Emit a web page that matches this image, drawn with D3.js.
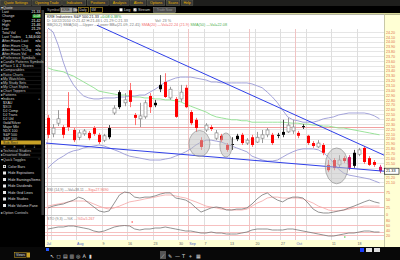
<!DOCTYPE html>
<html>
<head>
<meta charset="utf-8">
<script src="https://cdn.jsdelivr.net/npm/d3@7/dist/d3.min.js"></script>
<style>
  body { margin: 0; background: #000; }
  svg { display: block; font-family: "Liberation Sans", Arial, sans-serif; }
</style>
</head>
<body>
<svg id="chart" width="400" height="260"></svg>
<script>
// ---- daily bars (weekday slots, Jul 23 .. Oct 22) ----
var opens = [22.43,22.10,22.32,22.24,22.63,22.18,22.03,22.10,22.12,22.22,
  22.08,21.97,22.22,22.53,22.96,22.74,23.00,22.49,22.41,22.45,
  22.88,22.74,23.11,23.17,22.84,22.82,22.82,23.05,22.55,22.39,
  21.97,22.18,22.24,22.01,22.06,21.87,21.89,22.06,22.08,21.91,
  22.03,21.93,22.01,22.08,22.08,22.08,22.14,22.14,22.16,22.12,
  22.26,22.06,21.91,21.83,21.87,21.46,21.56,21.46,21.60,21.62,
  21.71,21.68,21.81,21.60,21.52,21.42];
var highs = [22.49,22.30,22.59,22.28,22.96,22.22,22.18,22.20,22.16,22.26,
  22.12,22.10,22.28,22.69,23.00,22.94,23.15,22.53,22.74,22.80,
  22.94,22.80,23.31,23.35,23.07,22.86,23.11,23.11,22.59,22.43,
  22.03,22.32,22.28,22.18,22.10,21.91,22.03,22.10,22.12,22.01,
  22.08,22.14,22.18,22.22,22.12,22.12,22.39,22.43,22.39,22.16,
  22.30,22.08,21.95,21.97,21.91,21.56,21.60,21.66,21.64,21.66,
  21.77,21.81,21.85,21.64,21.56,21.46];
var lows = [22.01,22.03,22.26,22.01,22.16,21.93,21.97,22.06,21.97,22.06,
  21.89,21.93,21.99,22.49,22.61,22.67,22.65,22.28,22.24,22.41,
  22.53,22.65,22.96,22.84,22.80,22.43,22.76,22.63,22.28,22.14,
  21.77,22.14,22.16,21.97,21.93,21.73,21.77,21.95,21.87,21.87,
  21.83,21.91,21.91,22.03,21.87,22.01,22.03,22.12,22.10,22.01,
  22.20,21.87,21.81,21.81,21.66,21.31,21.35,21.40,21.50,21.35,
  21.40,21.64,21.48,21.44,21.42,21.29];
var closes = [22.08,22.22,22.41,22.08,22.24,21.97,22.12,22.16,22.01,22.10,
  21.93,22.06,22.03,22.63,22.65,22.80,22.76,22.43,22.47,22.74,
  22.65,22.69,23.02,22.86,23.02,22.45,22.96,22.65,22.32,22.22,
  21.83,22.28,22.20,22.12,21.97,21.77,21.87,21.99,21.91,21.97,
  21.87,22.03,22.08,22.18,21.91,22.06,22.08,22.28,22.24,22.06,
  22.24,21.91,21.85,21.91,21.71,21.35,21.40,21.56,21.54,21.40,
  21.44,21.77,21.52,21.46,21.46,21.33];
// bar colour class: R red, B black, H hollow, M magenta
var barKinds = ("RHHRRRHHRR" + "RHBHBHRRHH" + "RBBRHRHRRR" + "RHRHRRBBRH" +
  "RHHHRBBHHR" + "BRRHRRRHRM" + "BHRRRM").split("");

// ---- overlays ----
var bbUpper = [24.28,24.20,23.93,23.58,23.29,23.11,22.98,22.88,22.84,22.82,
  22.82,22.84,22.84,22.84,22.86,22.86,22.88,22.88,22.90,22.90,
  22.96,23.02,23.09,23.17,23.21,23.25,23.27,23.27,23.27,23.25,
  23.23,23.21,23.17,23.17,23.15,23.15,23.15,23.15,23.15,23.15,
  23.13,23.09,23.05,22.96,22.86,22.74,22.59,22.45,22.39,22.37,
  22.34,22.34,22.34,22.37,22.41,22.43,22.45,22.49,22.51,22.53,
  22.53,22.53,22.53,22.51,22.47,22.41];
var bbLower = [21.40,21.50,21.58,21.64,21.71,21.75,21.77,21.81,21.83,21.85,
  21.87,21.85,21.81,21.77,21.73,21.68,21.64,21.62,21.60,21.58,
  21.56,21.56,21.56,21.58,21.60,21.64,21.68,21.73,21.79,21.87,
  21.93,21.97,21.97,21.95,21.93,21.89,21.85,21.81,21.77,21.73,
  21.64,21.60,21.56,21.54,21.54,21.56,21.62,21.68,21.73,21.77,
  21.79,21.79,21.79,21.77,21.71,21.62,21.50,21.37,21.29,21.25,
  21.23,21.21,21.19,21.17,21.13,21.09];
var sma50 = [23.46,23.42,23.40,23.38,23.33,23.29,23.23,23.17,23.11,23.05,
  22.98,22.96,22.94,22.92,22.90,22.90,22.88,22.86,22.86,22.84,
  22.84,22.82,22.82,22.80,22.80,22.78,22.76,22.71,22.67,22.63,
  22.59,22.55,22.49,22.45,22.43,22.41,22.39,22.39,22.37,22.37,
  22.34,22.34,22.34,22.34,22.34,22.34,22.34,22.33,22.32,22.32,
  22.30,22.30,22.28,22.28,22.26,22.26,22.24,22.22,22.22,22.20,
  22.18,22.16,22.14,22.12,22.10,22.08];
var refPrice = 22.24;
// trend lines: [dayIndex, price] end points
var trendUpper = [[9.6, 24.34], [65.9, 21.66]];
var trendLower = [[-0.4, 21.91], [65.9, 21.33]];
// highlighted areas
var markDay = [29.7, 34.9, 56.6];
var markPrice = [21.90, 21.87, 21.44];
var markDays = [2.06, 1.2, 2.25];
var markSpread = [0.27, 0.25, 0.37];

// ---- lower studies ----
var rsiVal = [21.7,28,32,35,42,48,58,52,38,25, 12,8,12,38,65,75,72,58,55,58,
  58,62,68,72,72,55,52,48,38,22, 8,15,22,25,22,15,15,18,18,22,
  35,52,65,72,58,48,42,52,58,58, 55,38,18,8,5,5,8,12,15,22, 28,35,42,48,42,38];
var rsiSig = [28,32,35,38,42,45,45,45,42,35, 28,22,18,22,28,35,42,45,48,52,
  55,58,62,65,65,62,58,55,48,42, 35,28,25,22,18,17,15,15,15,18,
  28,38,45,55,58,58,55,55,55,55, 52,45,38,28,22,15,12,12,15,18, 22,25,28,28,28,28];
var stoVal = [44,48,52,52,56,56,52,48,44,36, 32,36,44,52,56,58,56,44,40,44,
  44,48,48,52,48,44,40,36,36,32, 28,28,32,28,28,24,24,24,28,32,
  40,44,44,44,40,40,40,44,44,40, 36,32,28,24,20,16,16,20,24,28, 28,32,36,36,32,32];

// ---- axes ----
var priceTicks = [21.1,21.2,21.3,21.4,21.5,21.6,21.7,21.8,21.9,22.0,22.1,22.2,22.3,22.4,22.5,22.6,
  22.7,22.8,22.9,23.0,23.1,23.2,23.3,23.4,23.5,23.6,23.7,23.8,23.9,24.0,24.1,24.2];
var rsiTicks = [0, 25, 50, 75];
var rsiLevels = [25, 75];
var stoTicks = [20, 40, 60, 80];
var stoLevels = [20, 32, 60];
var weekDays = [1, 6, 11, 16, 21, 26, 31, 36, 41, 46, 51, 56, 61];
var monthDays = [28, 49];
var expiryDays = [40];
var dateTickDays = [0, 6, 11, 16, 21, 26, 28, 31, 36, 41, 46, 49, 56, 61];
var dateTickText = ["Jul", "Aug", "9", "16", "23", "30", "Sep", "7", "13", "20", "27", "Oct", "11", "18"];
var dateTickMonth = [true, true, false, false, false, false, true, false, false, false, false, true, false, false];

// ---- side panel text ----
var menuTabs = ["Quote Settings", "Opening Trade", "Indicators", "Positions", "Analysis", "Alerts", "Options", "Scans", "Help"];
var quoteLabels = ["Last", "Change", "Open", "High", "Low", "Total Vol", "Last Trades", "After-Hours Last",
  "After-Hours Chg", "After-Hours %Chg", "After-Hours Vol"];
var quoteValues = ["21.33", "0.08", "21.42", "21.46", "21.29", "n/a", "1,34,6:00", "n/a", "n/a", "n/a", "n/a"];
var sectionLabels = ["Preference Symbols", "Candle Patterns Symbols", "Place 1 & 2 Scores", "Comparables",
  "Ratio Charts", "My Watchlists", "My Study Sets", "My Chart Styles", "Chart Toppers", "Patterns"];
var indexLabels = ["$XAU", "$XOI", "DJ Comp", "DJ Trans", "DJ Util", "Gold/Silver", "Major Mkt",
  "NDX 100", "S&P 500", "S&P 100", "Sub-Sect"];
var toggleLabels = ["Color Bars", "Hide Expirations", "Hide Earnings/Items", "Hide Dividends",
  "Hide Grid Lines", "Hide Studies", "Hide Volume Pane"];

// ---- layout ----
var plotL = 45, plotR = 384;
var mainTop = 15, mainBot = 186, rsiBot = 215, stoBot = 240;

var svg = d3.select("svg#chart");
var x = d3.scaleLinear().domain([0, 65]).range([48, 48 + 65 * 5.1]);
var yP = d3.scaleLinear().domain([21.0, 24.3]).range([187.2, 27.15]);
var yR = d3.scaleLinear().domain([0, 100]).range([214.5, 184.5]);
var yS = d3.scaleLinear().domain([0, 100]).range([240, 215]);
var snap = function(v) { return Math.round(v) + 0.5; };
var idx = d3.range(opens.length);
var last = closes[closes.length - 1];

// backgrounds
svg.append("rect").attr("width", 400).attr("height", 260).attr("fill", "#000");
svg.append("rect").attr("x", 0).attr("y", 0).attr("width", 400).attr("height", 6).attr("fill", "#1e1e1c");
svg.append("rect").attr("x", plotL).attr("y", 13).attr("width", 400 - plotL).attr("height", 1.5).attr("fill", "#d8d89a");
svg.append("rect").attr("x", plotL).attr("y", 14.5).attr("width", plotR - plotL).attr("height", stoBot - 14.5).attr("fill", "#fff");
svg.append("rect").attr("x", plotR).attr("y", 14.5).attr("width", 400 - plotR).attr("height", 233).attr("fill", "#ffffd4");
svg.append("line").attr("x1", plotR + 0.5).attr("x2", plotR + 0.5).attr("y1", 14.5).attr("y2", 247).attr("stroke", "#c8c8a8");
svg.append("rect").attr("x", plotL).attr("y", stoBot).attr("width", plotR - plotL).attr("height", 7).attr("fill", "#ffffd4");
svg.append("rect").attr("x", 0).attr("y", 247).attr("width", 400).attr("height", 13).attr("fill", "#080808");

// top menu tabs
var tabX = 0;
menuTabs.forEach(function(t) {
    var w = t.length * 1.9 + 4;
    svg.append("rect").attr("x", tabX + 0.5).attr("y", 0.5).attr("width", w).attr("height", 5).attr("fill", "#3a3a36").attr("stroke", "#6a6a5a").attr("stroke-width", 0.4);
    svg.append("text").attr("x", tabX + 0.5 + w / 2).attr("y", 4.4).attr("text-anchor", "middle").attr("font-size", 3.6).attr("fill", "#e8b400").text(t);
    tabX += w + 1.5;
});

// symbol toolbar
var tb = svg.append("g").attr("font-size", 3.8);
tb.append("text").attr("x", 47).attr("y", 11.3).attr("fill", "#aaa").text("Symbol");
tb.append("rect").attr("x", 60.5).attr("y", 7.5).attr("width", 12).attr("height", 5).attr("fill", "#9a9a9a").attr("stroke", "#555").attr("stroke-width", 0.5);
tb.append("text").attr("x", 62).attr("y", 11.3).attr("fill", "#222").text("KRE");
tb.append("rect").attr("x", 73).attr("y", 7.5).attr("width", 4).attr("height", 5).attr("fill", "#666");
tb.append("text").attr("x", 73.4).attr("y", 11.3).attr("fill", "#fff").attr("font-size", 3).text("Go");
tb.append("rect").attr("x", 78.5).attr("y", 7.5).attr("width", 10).attr("height", 5).attr("fill", "#000").attr("stroke", "#c9a227").attr("stroke-width", 0.6);
tb.append("text").attr("x", 79.5).attr("y", 11.3).attr("fill", "#ddd").attr("font-size", 3.2).text("Daily");
tb.append("rect").attr("x", 90.5).attr("y", 7.5).attr("width", 12).attr("height", 5).attr("fill", "#000").attr("stroke", "#c9a227").attr("stroke-width", 0.6);
tb.append("text").attr("x", 91.5).attr("y", 11.3).attr("fill", "#ddd").attr("font-size", 3.2).text("6M");
tb.append("rect").attr("x", 119.5).attr("y", 8.3).attr("width", 3).attr("height", 3).attr("fill", "#fff");
tb.append("text").attr("x", 124).attr("y", 11.3).attr("fill", "#ccc").text("Log");
tb.append("rect").attr("x", 133.5).attr("y", 8.3).attr("width", 3).attr("height", 3).attr("fill", "#fff");
tb.append("text").attr("x", 134).attr("y", 11).attr("fill", "#000").attr("font-size", 3).text("✓");
tb.append("text").attr("x", 138).attr("y", 11.3).attr("fill", "#ccc").text("Stream");
tb.append("rect").attr("x", 153.5).attr("y", 7.5).attr("width", 22).attr("height", 5).attr("fill", "#4a4a4a").attr("stroke", "#888").attr("stroke-width", 0.5);
tb.append("text").attr("x", 164.5).attr("y", 11.2).attr("text-anchor", "middle").attr("fill", "#999").attr("font-size", 3.2).text("Trade Now");

// ---- grid ----
var grid = svg.append("g");
grid.selectAll(".hg").data(priceTicks).enter().append("line")
    .attr("x1", plotL).attr("x2", plotR).attr("y1", function(d) { return snap(yP(d)); }).attr("y2", function(d) { return snap(yP(d)); })
    .attr("stroke", "#e6e6e6");
grid.selectAll(".wg").data(weekDays).enter().append("line")
    .attr("x1", function(d) { return snap(x(d) - 2.55); }).attr("x2", function(d) { return snap(x(d) - 2.55); })
    .attr("y1", mainTop + 14).attr("y2", stoBot).attr("stroke", "#dedede");
grid.selectAll(".mg").data(monthDays.concat(expiryDays)).enter().append("line")
    .attr("x1", function(d) { return snap(x(d) - 2.55); }).attr("x2", function(d) { return snap(x(d) - 2.55); })
    .attr("y1", mainTop + 14).attr("y2", stoBot).attr("stroke", "#f0c4c4");
grid.append("line").attr("x1", 47.5).attr("x2", 47.5).attr("y1", mainTop + 14).attr("y2", stoBot).attr("stroke", "#f0c4c4");

// pane separators
[mainBot, rsiBot].forEach(function(v) {
    svg.append("line").attr("x1", plotL).attr("x2", plotR).attr("y1", v + 0.5).attr("y2", v + 0.5).attr("stroke", "#c8c8c8");
});

// ---- main pane ----
svg.append("clipPath").attr("id", "mainClip").append("rect").attr("x", plotL).attr("y", mainTop).attr("width", plotR - plotL).attr("height", mainBot - mainTop);
var main = svg.append("g").attr("clip-path", "url(#mainClip)");
var line = function(vals) { return d3.line().x(function(d, i) { return x(i); }).y(function(d) { return yP(d); })(vals); };

main.append("line").attr("x1", plotL).attr("x2", plotR).attr("y1", snap(yP(refPrice))).attr("y2", snap(yP(refPrice))).attr("stroke", "#f2a0a0");
main.append("path").attr("d", line(sma50)).attr("fill", "none").attr("stroke", "#8fe08f").attr("stroke-width", 0.9);
main.append("path").attr("d", line(bbUpper)).attr("fill", "none").attr("stroke", "#9a9ad6").attr("stroke-width", 0.9);
main.append("path").attr("d", line(bbLower)).attr("fill", "none").attr("stroke", "#9a9ad6").attr("stroke-width", 0.9);

// candles
var wickCol = { R: "#ff7070", M: "#e0508a", B: "#444", H: "#999" };
var bodyCol = { R: "#ff0000", M: "#d4145a", B: "#000", H: "#fff" };
main.selectAll(".wick").data(idx).enter().append("line")
    .attr("x1", function(i) { return snap(x(i)); }).attr("x2", function(i) { return snap(x(i)); })
    .attr("y1", function(i) { return yP(highs[i]); }).attr("y2", function(i) { return yP(lows[i]); })
    .attr("stroke", function(i) { return wickCol[barKinds[i]]; });
main.selectAll(".body").data(idx).enter().append("rect")
    .attr("x", function(i) { return Math.round(x(i)) - 1; })
    .attr("y", function(i) { return yP(Math.max(opens[i], closes[i])); })
    .attr("width", 3)
    .attr("height", function(i) { return Math.max(1, Math.abs(yP(opens[i]) - yP(closes[i]))); })
    .attr("fill", function(i) { return bodyCol[barKinds[i]]; })
    .attr("stroke", function(i) { return barKinds[i] === "H" ? "#888" : "none"; })
    .attr("stroke-width", 0.7);

// trend lines
[trendUpper, trendLower].forEach(function(t) {
    main.append("line").attr("x1", x(t[0][0])).attr("y1", yP(t[0][1])).attr("x2", x(t[1][0])).attr("y2", yP(t[1][1]))
        .attr("stroke", "#2f3fe8").attr("stroke-width", 1);
});

// highlighted areas
main.selectAll(".mark").data(markDay).enter().append("ellipse")
    .attr("cx", function(d) { return x(d); })
    .attr("cy", function(d, i) { return yP(markPrice[i]); })
    .attr("rx", function(d, i) { return x(d + markDays[i]) - x(d); })
    .attr("ry", function(d, i) { return yP(markPrice[i] - markSpread[i]) - yP(markPrice[i]); })
    .attr("fill", "#bdbdbd").attr("fill-opacity", 0.5).attr("stroke", "#888").attr("stroke-width", 0.6);

// header text
var hd = svg.append("g").attr("font-size", 3.8);
var h1 = hd.append("text").attr("x", 47).attr("y", 17.8);
h1.append("tspan").attr("fill", "#222").text("KRE Industries S&P 500  ");
h1.append("tspan").attr("fill", "#222").text("21.33  ");
h1.append("tspan").attr("fill", "#2a9a2a").text("+0.08  0.38%");
hd.append("text").attr("x", 47).attr("y", 22).attr("fill", "#777").text("D: 10/22/2010  O:21.42  H:21.46  L:21.29  C:21.33");
hd.append("text").attr("x", 155).attr("y", 22).attr("fill", "#777").text("Vol: 23        %");
var h3 = hd.append("text").attr("x", 47).attr("y", 26);
h3.append("tspan").attr("fill", "#777").text("BB(20,2) SMA(50) —Upper —Lower BB=(21.09, 22.41)  ");
h3.append("tspan").attr("fill", "#f07070").text("SMA(20) —Val=22.24 (21.9)  ");
h3.append("tspan").attr("fill", "#50b050").text("SMA(50) —Val=22.08");

// ---- RSI pane ----
var lineR = function(vals, ys) { return d3.line().x(function(d, i) { return x(i); }).y(function(d) { return ys(d); })(vals); };
svg.selectAll(".rl").data(rsiLevels).enter().append("line")
    .attr("x1", plotL).attr("x2", plotR).attr("y1", function(d) { return snap(yR(d)); }).attr("y2", function(d) { return snap(yR(d)); })
    .attr("stroke", "#f6b8b8");
svg.append("path").attr("d", lineR(rsiSig, yR)).attr("fill", "none").attr("stroke", "#f4a4a4").attr("stroke-width", 0.8);
svg.append("path").attr("d", lineR(rsiVal, yR)).attr("fill", "none").attr("stroke", "#777").attr("stroke-width", 0.8);
var r1 = svg.append("text").attr("x", 47).attr("y", 190.5).attr("font-size", 3.6);
r1.append("tspan").attr("fill", "#777").text("RSI (14,9) —Val=38.11 ");
r1.append("tspan").attr("fill", "#f07070").text("—Sig=27.9690");

// ---- stochastic pane ----
svg.selectAll(".sl").data(stoLevels).enter().append("line")
    .attr("x1", plotL).attr("x2", plotR).attr("y1", function(d) { return snap(yS(d)); }).attr("y2", function(d) { return snap(yS(d)); })
    .attr("stroke", "#f6c0c0");
svg.append("path").attr("d", lineR(stoVal, yS)).attr("fill", "none").attr("stroke", "#777").attr("stroke-width", 0.8);
svg.append("circle").attr("cx", x(16.5)).attr("cy", yS(72)).attr("r", 0.7).attr("fill", "#ff3030");
svg.append("circle").attr("cx", x(58.2)).attr("cy", yS(12)).attr("r", 0.7).attr("fill", "#30c030");
var s1 = svg.append("text").attr("x", 47).attr("y", 219.5).attr("font-size", 3.6);
s1.append("tspan").attr("fill", "#777").text("STO (9,3) —%K ");
s1.append("tspan").attr("fill", "#f07070").text("—%D=5.267");

// ---- right axes ----
var axisStyle = function(g) {
    g.select(".domain").remove();
    g.selectAll("line").remove();
    g.selectAll("text").attr("font-size", 3.6).attr("fill", "#e07048").attr("x", 2).attr("font-family", "Liberation Sans, Arial, sans-serif");
};
// price labels next to the last-price tag are left out so the tag stays readable
var priceLabels = priceTicks.filter(function(p) { return Math.abs(p - last) > 0.08; });
svg.append("g").attr("transform", "translate(" + plotR + ",0)")
    .call(d3.axisRight(yP).tickValues(priceLabels).tickFormat(d3.format(".2f")).tickSize(0)).call(axisStyle);
svg.append("g").attr("transform", "translate(" + plotR + ",0)")
    .call(d3.axisRight(yR).tickValues(rsiTicks).tickSize(0)).call(axisStyle);
svg.append("g").attr("transform", "translate(" + plotR + ",0)")
    .call(d3.axisRight(yS).tickValues(stoTicks).tickSize(0)).call(axisStyle);

// last price tag
svg.append("rect").attr("x", plotR + 0.5).attr("y", yP(last) - 3).attr("width", 14.5).attr("height", 6).attr("fill", "#fff").attr("stroke", "#000").attr("stroke-width", 0.6);
svg.append("text").attr("x", plotR + 2).attr("y", yP(last) + 1.3).attr("font-size", 3.8).attr("fill", "#000").text(d3.format(".2f")(last));

// ---- date axis ----
svg.selectAll(".dt").data(dateTickDays).enter().append("text")
    .attr("x", function(d) { return Math.max(46.5, x(d) - 1.5); }).attr("y", 245.3).attr("font-size", 3.6)
    .attr("fill", function(d, i) { return dateTickMonth[i] ? "#4a62c8" : "#666"; })
    .text(function(d, i) { return dateTickText[i]; });

// ---- bottom tool bar ----
svg.append("rect").attr("x", 46).attr("y", 248).attr("width", 3).attr("height", 3).attr("fill", "#2255ff");
var tools = ["↖", "◻", "▤", "▥", "◎", "A", "▮"];
tools.forEach(function(t, i) {
    svg.append("text").attr("x", 50 + i * 6.5).attr("y", 258).attr("font-size", 5).attr("fill", "#ddd").attr("font-family", "DejaVu Sans").text(t);
});
var tools2 = ["⟋", "✎", "—", "T", "⌖", "▦"];
tools2.forEach(function(t, i) {
    if (i === 0) svg.append("rect").attr("x", 160).attr("y", 251).attr("width", 6).attr("height", 8).attr("fill", "#555");
    svg.append("text").attr("x", 161 + i * 7).attr("y", 258).attr("font-size", 5).attr("fill", "#ddd").attr("font-family", "DejaVu Sans").text(t);
});
svg.append("rect").attr("x", 360).attr("y", 248).attr("width", 4).attr("height", 4).attr("fill", "#1a3cff");
svg.append("rect").attr("x", 366).attr("y", 248).attr("width", 6).attr("height", 4).attr("fill", "#ddd");
svg.append("rect").attr("x", 374).attr("y", 248).attr("width", 6).attr("height", 4).attr("fill", "#ddd");

// ---- left panel ----
var lp = svg.append("g").attr("font-size", 3.6);
lp.append("rect").attr("x", 41.5).attr("y", 10).attr("width", 2.5).attr("height", 205).attr("fill", "#3a3a3a");
lp.append("rect").attr("x", 0).attr("y", 6.3).attr("width", 41).attr("height", 3.8).attr("fill", "#3c3c3c");
lp.append("text").attr("x", 1).attr("y", 9.3).attr("fill", "#ddd").text("▾Quote");
quoteLabels.forEach(function(t, i) {
    var yy = 12 + i * 4.15;
    lp.append("text").attr("x", 2).attr("y", yy + 1.3).attr("fill", "#d8d8d8").text(t);
    if (i === 1) lp.append("rect").attr("x", 32.5).attr("y", yy - 1.7).attr("width", 8).attr("height", 3.6).attr("fill", "#2e9e2e");
    lp.append("text").attr("x", 40.5).attr("y", yy + 1.3).attr("text-anchor", "end").attr("fill", "#fff").text(quoteValues[i]);
});
sectionLabels.forEach(function(t, i) {
    var yy = 57.6 + i * 4.15;
    lp.append("line").attr("x1", 0).attr("x2", 41).attr("y1", yy - 2).attr("y2", yy - 2).attr("stroke", "#2a2a2a").attr("stroke-width", 0.5);
    lp.append("text").attr("x", 1).attr("y", yy + 1.3).attr("fill", "#c8c8c8").text("▸" + t);
});
lp.append("text").attr("x", 1).attr("y", 100.3).attr("fill", "#c8c8c8").text("▾Indices");
lp.append("text").attr("x", 38).attr("y", 100.3).attr("fill", "#c8c8c8").text("+");
indexLabels.forEach(function(t, i) {
    var yy = 103 + i * 3.95;
    if (i === indexLabels.length - 1) lp.append("rect").attr("x", 1).attr("y", yy - 2).attr("width", 40).attr("height", 4).attr("fill", "#c9a227");
    lp.append("text").attr("x", 3).attr("y", yy + 1.3).attr("fill", i === indexLabels.length - 1 ? "#222" : "#d8d8d8").text(t);
});
["≡", "✕", "↑", "↓"].forEach(function(t, i) {
    lp.append("text").attr("x", 3 + i * 10).attr("y", 148).attr("fill", "#bbb").attr("font-size", 3.4).attr("font-family", "DejaVu Sans").text(t);
});
["▸Technical Studies", "▸Drawtool Studies", "▾Quick Toggles"].forEach(function(t, i) {
    var yy = 151 + i * 4.1;
    lp.append("line").attr("x1", 0).attr("x2", 41).attr("y1", yy - 2).attr("y2", yy - 2).attr("stroke", "#2a2a2a").attr("stroke-width", 0.5);
    lp.append("text").attr("x", 1).attr("y", yy + 1.3).attr("fill", "#c8c8c8").text(t);
});
lp.append("text").attr("x", 38).attr("y", 160.3).attr("fill", "#c8c8c8").text("○");
toggleLabels.forEach(function(t, i) {
    var yy = 166.5 + i * 6.5;
    lp.append("rect").attr("x", 3).attr("y", yy - 1.5).attr("width", 3).attr("height", 3).attr("fill", "#e8e8e8");
    if (i === 0) lp.append("rect").attr("x", 3.8).attr("y", yy - 0.7).attr("width", 1.4).attr("height", 1.4).attr("fill", "#333");
    lp.append("text").attr("x", 8).attr("y", yy + 1.3).attr("fill", "#d8d8d8").text(t);
});
lp.append("text").attr("x", 1).attr("y", 214.3).attr("fill", "#c8c8c8").text("▸Option Controls");
lp.append("rect").attr("x", 14.5).attr("y", 252.5).attr("width", 12).attr("height", 5).attr("fill", "#1c1c1c").attr("stroke", "#c9a227").attr("stroke-width", 0.5);
lp.append("text").attr("x", 16).attr("y", 256.2).attr("fill", "#ddd").attr("font-size", 3.4).text("Views");
lp.append("rect").attr("x", 27).attr("y", 252.5).attr("width", 3).attr("height", 5).attr("fill", "#c9a227");
</script>
</body>
</html>
